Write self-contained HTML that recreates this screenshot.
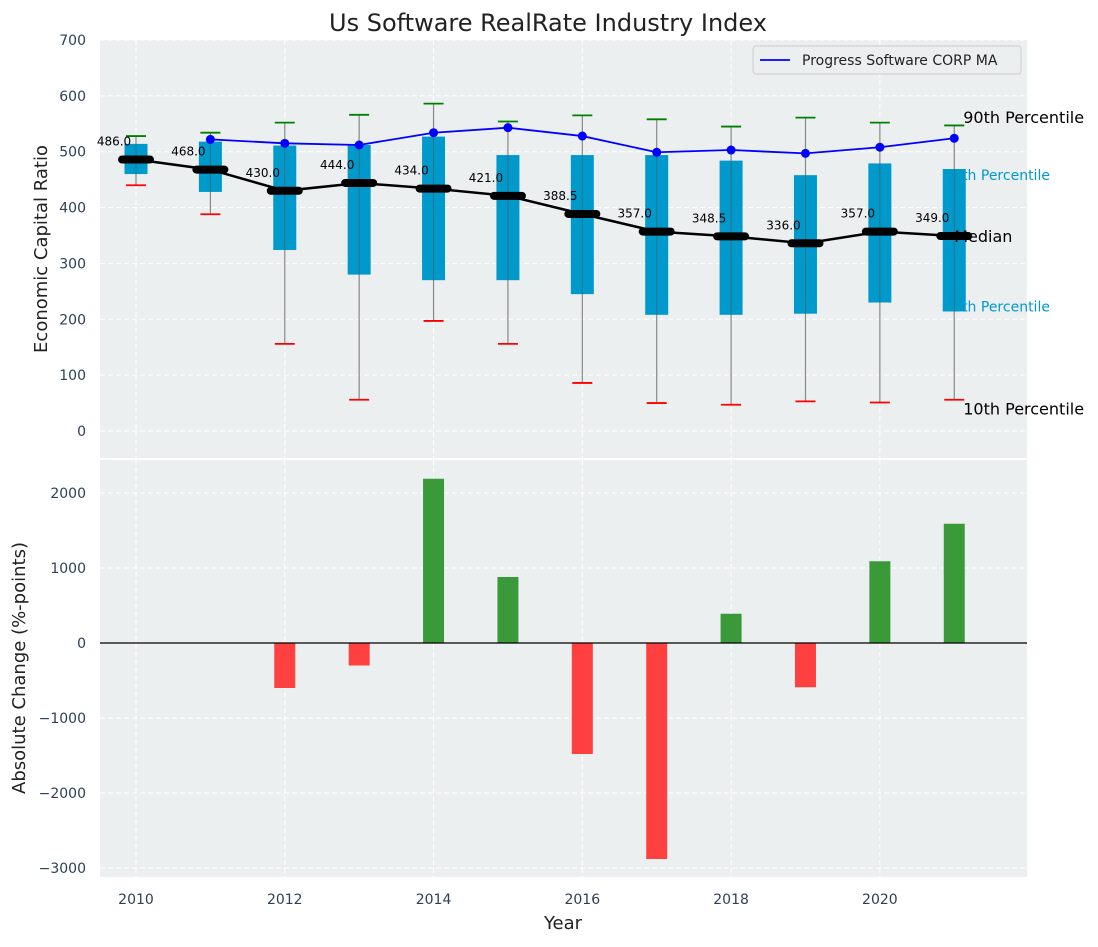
<!DOCTYPE html>
<html><head><meta charset="utf-8"><style>
body{margin:0;background:#fff;font-family:"Liberation Sans","DejaVu Sans",sans-serif}
svg text{font-family:"DejaVu Sans","Liberation Sans",sans-serif}
</style></head><body>
<svg id="c" width="1098" height="942" xmlns="http://www.w3.org/2000/svg"></svg>
<script>
const years=[2010,2011,2012,2013,2014,2015,2016,2017,2018,2019,2020,2021];
const medians=[486,468,430,444,434,421,388.5,357,348.5,336,357,349];
const q1=[460,428,324,280,270,270,245,208,208,210,230,214];
const q3=[514,518,511,512,527,494,494,494,484,458,479,469];
const p10=[440,388,156,56,197,156,86,50,47,53,51,56];
const p90=[528,534,552,566,586,554,565,558,545,561,552,547];
const maYears=[2011,2012,2013,2014,2015,2016,2017,2018,2019,2020,2021];
const maValues=[522,515,512,534,543,528,499,503,497,508,524];
const changes=[0,0,-600,-300,2190,880,-1480,-2880,390,-590,1090,1590];
const topTicks=[0,100,200,300,400,500,600,700];
const botTicks=[-3000,-2000,-1000,0,1000,2000];
const xTicks=[2010,2012,2014,2016,2018,2020];

const NS="http://www.w3.org/2000/svg";
const svg=document.getElementById('c');
function el(tag,attrs,parent,text){const e=document.createElementNS(NS,tag);for(const k in attrs)e.setAttribute(k,attrs[k]);if(text!==undefined)e.textContent=text;(parent||svg).appendChild(e);return e;}
const L=100,R=1027;
const x=v=>L+(v-2009.516)/(2021.978-2009.516)*(R-L);
const T1=40,B1=458;const y1=v=>431-v*0.5586;
const T2=460,B2=877;const y2=v=>643-v*0.075;

let e=el('rect',{x:L,y:T1,width:R-L,height:B1-T1,fill:'#ebeff0'});

e=el('rect',{x:L,y:T2,width:R-L,height:B2-T2,fill:'#ebeff0'});


xTicks.forEach(t=>{
  el('line',{x1:x(t),x2:x(t),y1:T1,y2:B1,stroke:'#fff','stroke-dasharray':'5,3','stroke-width':1});
  el('line',{x1:x(t),x2:x(t),y1:T2,y2:B2,stroke:'#fff','stroke-dasharray':'5,3','stroke-width':1});
  e=el('text',{x:x(t),y:904,'text-anchor':'middle','font-size':14,fill:'#2e3f56'},null,t);
  
});
topTicks.forEach(t=>{
  el('line',{x1:L,x2:R,y1:y1(t),y2:y1(t),stroke:'#fff','stroke-dasharray':'5,3'});
  e=el('text',{x:86,y:y1(t)+5,'text-anchor':'end','font-size':14,fill:'#2e3f56'},null,t);
  
});
botTicks.forEach(t=>{
  el('line',{x1:L,x2:R,y1:y2(t),y2:y2(t),stroke:'#fff','stroke-dasharray':'5,3'});
  e=el('text',{x:86,y:y2(t)+5,'text-anchor':'end','font-size':14,fill:'#2e3f56'},null,t<0?'\u2212'+(-t):t);
  
});

const lx=x(2021)-10;
e=el('text',{x:lx,y:y1(458)+5,'font-size':14,fill:'#0099cc'},null,'75th Percentile');

e=el('text',{x:lx,y:y1(223)+5,'font-size':14,fill:'#0099cc'},null,'25th Percentile');


years.forEach((yr,i)=>{
  const cx=x(yr);
  e=el('line',{x1:cx,x2:cx,y1:y1(p10[i]),y2:y1(p90[i]),stroke:'#888','stroke-width':1.2});
  
  e=el('rect',{x:cx-11.5,y:y1(q3[i]),width:23,height:y1(q1[i])-y1(q3[i]),fill:'#0099cc'});
  
  el('line',{x1:cx,x2:cx,y1:y1(q3[i]),y2:y1(q1[i]),stroke:'#555','stroke-width':1,opacity:0.6});
  e=el('line',{x1:cx-10,x2:cx+10,y1:y1(p90[i]),y2:y1(p90[i]),stroke:'green','stroke-width':1.8});
  
  e=el('line',{x1:cx-10,x2:cx+10,y1:y1(p10[i]),y2:y1(p10[i]),stroke:'red','stroke-width':1.8});
  
});
e=el('polyline',{points:years.map((yr,i)=>x(yr)+','+y1(medians[i])).join(' '),fill:'none',stroke:'#000','stroke-width':2.5});

years.forEach((yr,i)=>{
  const cx=x(yr),cy=y1(medians[i]);
  e=el('line',{x1:cx-14,x2:cx+14,y1:cy,y2:cy,stroke:'#000','stroke-width':8,'stroke-linecap':'round'});
  
  e=el('text',{x:cx-22,y:cy-14,'text-anchor':'middle','font-size':12,fill:'#000'},null,medians[i].toFixed(1));
  
});
e=el('polyline',{points:maYears.map((yr,i)=>x(yr)+','+y1(maValues[i])).join(' '),fill:'none',stroke:'#0000ff','stroke-width':1.8});

maYears.forEach((yr,i)=>{
  e=el('circle',{cx:x(yr),cy:y1(maValues[i]),r:4.5,fill:'#0000ff'});
  
});
const bx=x(2021)+9;
[['90th Percentile',562,'p90-label'],['Median',349,'median-label'],['10th Percentile',40,'p10-label']].forEach(a=>{
  e=el('text',{x:a[0]==='Median'?x(2021):bx,y:y1(a[1])+6,'font-size':16,fill:'#000'},null,a[0]);
  
});

const lg=el('g',{});

el('rect',{x:753,y:46,width:268,height:28,rx:3,fill:'#ebeff0',stroke:'#ccc'},lg);
el('line',{x1:760,x2:790,y1:60,y2:60,stroke:'#0000ff','stroke-width':1.8},lg);
el('text',{x:802,y:65,'font-size':14,fill:'#222'},lg,'Progress Software CORP MA');

years.forEach((yr,i)=>{
  const v=changes[i];if(v===0)return;
  const yt=Math.min(y2(v),y2(0)),h=Math.abs(y2(v)-y2(0));
  e=el('rect',{x:x(yr)-10.5,y:yt,width:21,height:h,fill:v>0?'#3a9a3a':'#ff4040'});
  
});
e=el('line',{x1:L,x2:R,y1:y2(0),y2:y2(0),stroke:'#000','stroke-width':1.2});


e=el('text',{x:548,y:31,'text-anchor':'middle','font-size':24,fill:'#222'},null,'Us Software RealRate Industry Index');

e=el('text',{x:563,y:929,'text-anchor':'middle','font-size':18,fill:'#222'},null,'Year');

e=el('text',{x:0,y:0,'text-anchor':'middle','font-size':18,fill:'#222',transform:'translate(47,249) rotate(-90)'},null,'Economic Capital Ratio');

e=el('text',{x:0,y:0,'text-anchor':'middle','font-size':18,fill:'#222',transform:'translate(25,668) rotate(-90)'},null,'Absolute Change (%-points)');

</script>
</body></html>
